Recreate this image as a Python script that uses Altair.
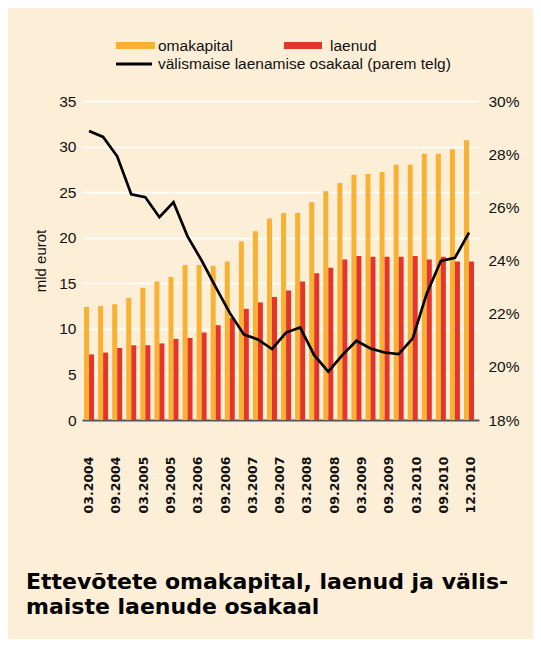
import altair as alt
import pandas as pd

quarters = ["03.2004", "06.2004", "09.2004", "12.2004",
            "03.2005", "06.2005", "09.2005", "12.2005",
            "03.2006", "06.2006", "09.2006", "12.2006",
            "03.2007", "06.2007", "09.2007", "12.2007",
            "03.2008", "06.2008", "09.2008", "12.2008",
            "03.2009", "06.2009", "09.2009", "12.2009",
            "03.2010", "06.2010", "09.2010", "12.2010"]
label_quarters = ["03.2004", "09.2004", "03.2005", "09.2005", "03.2006", "09.2006",
                  "03.2007", "09.2007", "03.2008", "09.2008", "03.2009", "09.2009",
                  "03.2010", "09.2010", "12.2010"]
omakapital = [12.4, 12.5, 12.7, 13.4, 14.5, 15.2, 15.7, 17.0, 17.0, 16.9, 17.4, 19.6, 20.7, 22.1,
              22.7, 22.7, 23.9, 25.1, 26.0, 26.9, 27.0, 27.2, 28.0, 28.0, 29.2, 29.2, 29.7, 30.7]
laenud = [7.2, 7.4, 7.9, 8.2, 8.2, 8.4, 8.9, 9.0, 9.6, 10.4, 11.2, 12.2, 12.9, 13.5,
          14.2, 15.2, 16.1, 16.7, 17.6, 18.0, 17.9, 17.9, 17.9, 18.0, 17.6, 17.9, 17.4, 17.4]
osakaal = [28.87, 28.65, 27.92, 26.49, 26.38, 25.63, 26.19, 24.91, 24.0, 23.0, 22.03, 21.22, 21.03, 20.67,
           21.29, 21.48, 20.44, 19.82, 20.44, 20.98, 20.69, 20.54, 20.48, 21.07, 22.76, 23.98, 24.1, 25.05]
series_names = ["omakapital", "laenud"]
line_name = "välismaise laenamise osakaal (parem telg)"
title_lines = ["Ettevõtete omakapital, laenud ja välis-", "maiste laenude osakaal"]

ORANGE = "#F8B133"
RED = "#E5352A"
BG = "#FDEFD7"
FONT = "Liberation Sans"
BOLD_FONT = "DejaVu Sans"

bars_df = pd.DataFrame({
    "kvartal": quarters * 2,
    "seeria": [series_names[0]] * len(quarters) + [series_names[1]] * len(quarters),
    "väärtus": omakapital + laenud,
})
line_df = pd.DataFrame({"kvartal": quarters, "osakaal": osakaal})

# the original's category labels drift slightly left of their bars (evenly spaced labels)
drift = -0.85
label_offset = {
    "condition": [
        {"test": f"datum.value == '{q}'", "value": round(drift * i, 1) if q != "12.2010" else 2}
        for i, q in enumerate(label_quarters)
    ],
    "value": 0,
}

x_enc = alt.X("kvartal:N", sort=quarters,
              scale=alt.Scale(paddingInner=0.29, paddingOuter=0.25, align=0.29),
              axis=alt.Axis(title=None, values=label_quarters, labelAngle=270, ticks=False,
                            labelPadding=36, labelFontWeight="bold", labelFontSize=12.5,
                            labelColor="#111", domainColor="#555", domainWidth=2,
                            labelOffset=label_offset,
                            grid=False, labelFont=BOLD_FONT))

bars = alt.Chart(bars_df).mark_bar().encode(
    x=x_enc,
    xOffset=alt.XOffset("seeria:N", sort=series_names, scale=alt.Scale(paddingInner=0, paddingOuter=0)),
    y=alt.Y("väärtus:Q", scale=alt.Scale(domain=[0, 35], nice=False),
            axis=alt.Axis(orient="left", values=[0, 5, 10, 15, 20, 25, 30, 35], title="mld eurot",
                          titleFontWeight="normal", titleFontSize=15, titleColor="#111",
                          titlePadding=10, labelFontSize=15.5, labelColor="#111", labelPadding=6,
                          ticks=False, domain=False, grid=True, gridColor="#FFFFFF", gridWidth=1.5,
                          labelFont=FONT, titleFont=FONT)),
    color=alt.Color("seeria:N", scale=alt.Scale(domain=series_names, range=[ORANGE, RED]), legend=None),
)

line = alt.Chart(line_df).mark_line(color="#000000", strokeWidth=2.7).encode(
    x=alt.X("kvartal:N", sort=quarters),
    y=alt.Y("osakaal:Q", scale=alt.Scale(domain=[18, 30], nice=False),
            axis=alt.Axis(orient="right", values=[18, 20, 22, 24, 26, 28, 30], title=None,
                          labelExpr="datum.value + '%'", labelFontSize=15.5, labelColor="#111",
                          labelPadding=9, ticks=False, domain=False, grid=False, labelFont=FONT)),
)

# legend drawn by hand
leg_sw = pd.DataFrame({
    "nimi": [series_names[0], series_names[1], line_name],
    "x1": [34, 202, 34], "x2": [73, 240, 70], "y": [-55.5, -55.5, -37],
    "w": [7, 7, 3], "c": [ORANGE, RED, "#000000"],
    "tx": [76, 248, 76],
})
leg_rules = alt.Chart(leg_sw).mark_rule(strokeCap="butt").encode(
    x=alt.X("x1:Q", scale=None, axis=None), x2="x2:Q",
    y=alt.Y("y:Q", scale=None, axis=None),
    strokeWidth=alt.StrokeWidth("w:Q", scale=None, legend=None),
    color=alt.Color("c:N", scale=None, legend=None),
)
leg_text = alt.Chart(leg_sw).mark_text(align="left", baseline="middle", fontSize=15.5,
                                       font=FONT, color="#111").encode(
    x=alt.X("tx:Q", scale=None, axis=None),
    y=alt.Y("y:Q", scale=None, axis=None),
    text="nimi:N",
)

chart = alt.layer(bars, line, leg_rules, leg_text).resolve_scale(
    y="independent"
).properties(
    width=397, height=319,
    background=BG,
    padding={"left": 74, "top": 93, "right": 54, "bottom": 219},
    autosize=alt.AutoSizeParams(type="none"),
    title=alt.TitleParams(text=title_lines, orient="bottom", anchor="start", frame="group",
                          fontSize=22, fontWeight="bold", color="#000", lineHeight=25,
                          offset=59, dx=-56, font=BOLD_FONT),
).configure_view(stroke=None)

chart.save("out.html", embed_options={"renderer": "svg", "actions": False})
